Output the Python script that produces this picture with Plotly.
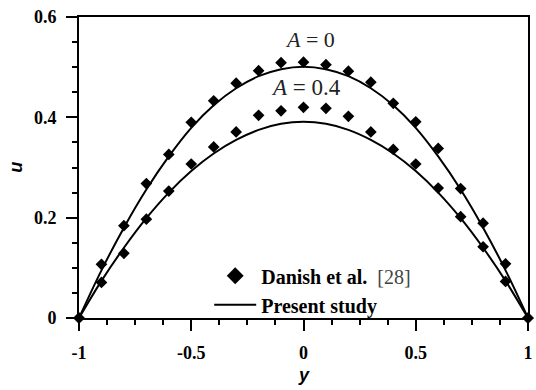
import plotly.graph_objects as go

# Transverse coordinate of the channel
y_pts = [-1.0, -0.9, -0.8, -0.7, -0.6, -0.5, -0.4, -0.3, -0.2, -0.1, 0.0,
         0.1, 0.2, 0.3, 0.4, 0.5, 0.6, 0.7, 0.8, 0.9, 1.0]

# Danish et al. [28] reference data
u_ref_A0 = [0.0, 0.107, 0.184, 0.268, 0.326, 0.390, 0.433, 0.468, 0.493, 0.509, 0.510,
            0.505, 0.492, 0.470, 0.428, 0.391, 0.338, 0.258, 0.189, 0.108, 0.0]
u_ref_A04 = [0.0, 0.071, 0.129, 0.197, 0.253, 0.307, 0.341, 0.371, 0.404, 0.413, 0.420,
             0.418, 0.402, 0.371, 0.336, 0.307, 0.259, 0.202, 0.142, 0.073, 0.0]

# Present study profiles
u_cur_A0 = [0.0, 0.095, 0.180, 0.256, 0.322, 0.379, 0.424, 0.458, 0.482, 0.496, 0.501,
            0.496, 0.482, 0.458, 0.424, 0.379, 0.322, 0.256, 0.180, 0.095, 0.0]
u_cur_A04 = [0.0, 0.074, 0.140, 0.199, 0.250, 0.293, 0.328, 0.355, 0.375, 0.387, 0.391,
             0.387, 0.375, 0.355, 0.328, 0.293, 0.250, 0.199, 0.140, 0.074, 0.0]

x_ticks = [-1, -0.5, 0, 0.5, 1]
x_tick_text = ["-1", "-0.5", "0", "0.5", "1"]
y_ticks = [0, 0.2, 0.4, 0.6]
y_tick_text = ["0", "0.2", "0.4", "0.6"]

SERIF = "Liberation Serif"
SANS = "Liberation Sans"

fig = go.Figure()

for u in (u_cur_A0, u_cur_A04):
    fig.add_trace(go.Scatter(x=y_pts, y=u, mode="lines", line=dict(color="black", width=2, shape="spline"),
                             showlegend=False, hoverinfo="skip"))

for u in (u_ref_A0, u_ref_A04):
    fig.add_trace(go.Scatter(x=y_pts, y=u, mode="markers",
                             marker=dict(symbol="diamond", size=9, color="black"),
                             showlegend=False, cliponaxis=False))

# legend entries
fig.add_trace(go.Scatter(x=[None], y=[None], mode="markers", legendgroup="a",
                         marker=dict(symbol="diamond", size=13, color="black"),
                         name="<b>Danish et al.</b>  <span style='color:#444'>[28]</span>"))
fig.add_trace(go.Scatter(x=[None], y=[None], mode="lines", legendgroup="b",
                         line=dict(color="black", width=2),
                         name="<b>Present study</b>"))

axis_common = dict(showline=True, linecolor="black", linewidth=2, mirror=True,
                   ticks="outside", ticklen=11, tickwidth=2, tickcolor="black",
                   showgrid=False, zeroline=False,
                   tickfont=dict(family=SERIF, size=18, color="black"))

fig.update_xaxes(range=[-1, 1], tickvals=x_ticks, ticktext=[f"<b>{t}</b>" for t in x_tick_text],
                 minor=dict(ticks="outside", ticklen=5, tickwidth=2, tickcolor="black", dtick=0.125, tick0=-1),
                 ticklabelstandoff=6, **axis_common)
fig.update_yaxes(range=[0, 0.6], tickvals=y_ticks, ticktext=[f"<b>{t}</b>" for t in y_tick_text],
                 minor=dict(ticks="outside", ticklen=5, tickwidth=2, tickcolor="black", dtick=0.05, tick0=0),
                 ticklabelstandoff=6, **axis_common)

fig.add_annotation(text="<i>A</i> = 0", x=0.03, y=0.555, xref="x", yref="y", showarrow=False,
                   xanchor="center", yanchor="middle",
                   font=dict(family=SERIF, size=22, color="#222"))
fig.add_annotation(text="<i>A</i> = 0.4", x=0.01, y=0.459, xref="x", yref="y", showarrow=False,
                   xanchor="center", yanchor="middle",
                   font=dict(family=SERIF, size=23, color="#222"))
fig.add_annotation(text="<b><i>u</i></b>", x=-0.142, y=0.5, xref="paper", yref="paper", showarrow=False,
                   xanchor="center", yanchor="middle",
                   textangle=-90, font=dict(family=SANS, size=18, color="black"))
fig.add_annotation(text="<b><i>y</i></b>", x=0.5, y=-0.19, xref="paper", yref="paper", showarrow=False,
                   xanchor="center", yanchor="middle",
                   font=dict(family=SANS, size=18, color="black"))

fig.update_layout(
    width=536, height=390,
    margin=dict(l=79, r=3, t=17, b=72),
    paper_bgcolor="white", plot_bgcolor="white",
    legend=dict(x=0.29, y=0.205, xanchor="left", yanchor="top", bgcolor="rgba(0,0,0,0)",
                font=dict(family=SERIF, size=20, color="black"), itemsizing="trace",
                traceorder="grouped", tracegroupgap=0, itemwidth=42),
)

fig.write_html("out.html")
